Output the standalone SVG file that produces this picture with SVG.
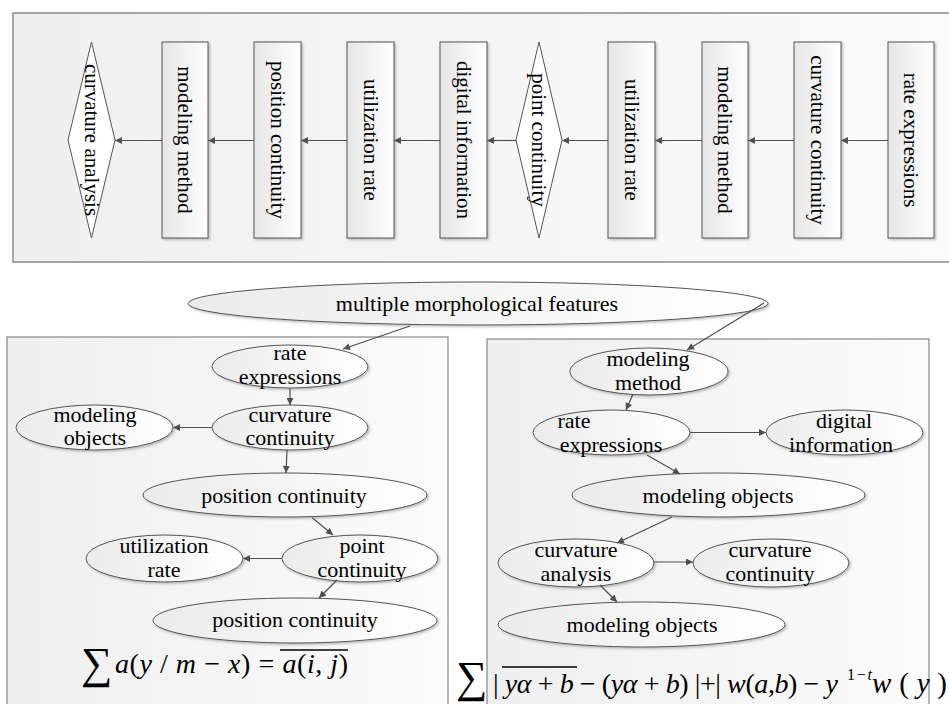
<svg xmlns="http://www.w3.org/2000/svg" width="949" height="704" viewBox="0 0 949 704">
<defs>
<linearGradient id="gPanel" x1="0" y1="0" x2="1" y2="0">
<stop offset="0" stop-color="#efefef"/>
<stop offset="1" stop-color="#fbfbfb"/>
</linearGradient>
<linearGradient id="gBox" x1="0" y1="0" x2="1" y2="0">
<stop offset="0" stop-color="#e6e6e6"/>
<stop offset="1" stop-color="#ffffff"/>
</linearGradient>
<linearGradient id="gEll" x1="0" y1="0" x2="1" y2="0">
<stop offset="0" stop-color="#ebebeb"/>
<stop offset="1" stop-color="#ffffff"/>
</linearGradient>
<filter id="sh" x="-10%" y="-10%" width="130%" height="130%">
<feDropShadow dx="1.5" dy="1.5" stdDeviation="1" flood-color="#000" flood-opacity="0.25"/>
</filter>
<marker id="ah" viewBox="0 0 10 10" refX="10" refY="5" markerWidth="8" markerHeight="7" markerUnits="userSpaceOnUse" orient="auto">
<path d="M0,0 L10,5 L0,10 z" fill="#505050"/>
</marker>
<style>
.panel{fill:url(#gPanel);stroke:#8a8a8a;stroke-width:1.5}
.panel2{fill:url(#gPanel);stroke:#707070;stroke-width:1}
.box{fill:url(#gBox);stroke:#555;stroke-width:1;filter:url(#sh)}
.dia{fill:#ffffff;stroke:#555;stroke-width:1}
.ell{fill:url(#gEll);stroke:#555;stroke-width:1;filter:url(#sh)}
.t21{font-family:"Liberation Serif","Times New Roman",serif;font-size:21px;fill:#000;text-anchor:middle;dominant-baseline:central}
.t22{font-family:"Liberation Serif","Times New Roman",serif;font-size:22px;fill:#000;text-anchor:middle}
.fm{font-family:"Liberation Serif","Times New Roman",serif;fill:#000}
.it{font-style:italic}
.cn{fill:none;stroke:#505050;stroke-width:1.2;marker-end:url(#ah)}
</style>
</defs>

<rect class="panel" x="13" y="13" width="960" height="249"/>
<rect class="panel2" x="7" y="337" width="441" height="400"/>
<rect class="panel2" x="487" y="339" width="442" height="400"/>

<g id="top-curvature-analysis">
<polygon class="dia" points="68,140 91.5,42 115,140 91.5,238"/>
<text class="t21" x="91.5" y="140" transform="rotate(90 91.5 140)">curvature analysis</text>
</g>
<g id="top-modeling-method-1">
<rect class="box" x="162" y="42" width="46" height="196"/>
<text class="t21" x="185" y="140" transform="rotate(90 185 140)">modeling method</text>
</g>
<g id="top-position-continuity">
<rect class="box" x="254" y="42" width="47" height="196"/>
<text class="t21" x="277.5" y="140" transform="rotate(90 277.5 140)">position continuity</text>
</g>
<g id="top-utilization-rate-1">
<rect class="box" x="347" y="42" width="47" height="196"/>
<text class="t21" x="370.5" y="140" transform="rotate(90 370.5 140)">utilization rate</text>
</g>
<g id="top-digital-information">
<rect class="box" x="440" y="42" width="47" height="196"/>
<text class="t21" x="463.5" y="140" transform="rotate(90 463.5 140)">digital information</text>
</g>
<g id="top-point-continuity">
<polygon class="dia" points="516,140 539,42 562,140 539,238"/>
<text class="t21" x="539" y="140" transform="rotate(90 539 140)">point continuity</text>
</g>
<g id="top-utilization-rate-2">
<rect class="box" x="608" y="42" width="47" height="196"/>
<text class="t21" x="631.5" y="140" transform="rotate(90 631.5 140)">utilization rate</text>
</g>
<g id="top-modeling-method-2">
<rect class="box" x="702" y="42" width="46" height="196"/>
<text class="t21" x="725" y="140" transform="rotate(90 725 140)">modeling method</text>
</g>
<g id="top-curvature-continuity">
<rect class="box" x="794" y="42" width="47" height="196"/>
<text class="t21" x="817.5" y="140" transform="rotate(90 817.5 140)">curvature continuity</text>
</g>
<g id="top-rate-expressions">
<rect class="box" x="888" y="42" width="46" height="196"/>
<text class="t21" x="911" y="140" transform="rotate(90 911 140)">rate expressions</text>
</g>

<g id="multiple-morphological-features">
<ellipse class="ell" cx="478" cy="303.5" rx="290" ry="21.5"/>
<text class="t22" x="477" y="311">multiple morphological features</text>
</g>

<g id="L-rate-expressions">
<ellipse class="ell" cx="290" cy="366.5" rx="78" ry="21.5"/>
<text class="t22" x="290" y="360">rate</text>
<text class="t22" x="290" y="384">expressions</text>
</g>
<g id="L-curvature-continuity">
<ellipse class="ell" cx="290" cy="427.5" rx="78" ry="22.5"/>
<text class="t22" x="290" y="421.5">curvature</text>
<text class="t22" x="290" y="445">continuity</text>
</g>
<g id="L-modeling-objects">
<ellipse class="ell" cx="94.5" cy="427.5" rx="78.5" ry="22.5"/>
<text class="t22" x="95" y="421.5">modeling</text>
<text class="t22" x="95" y="445">objects</text>
</g>
<g id="L-position-continuity-1">
<ellipse class="ell" cx="285" cy="495" rx="142" ry="22"/>
<text class="t22" x="284" y="503">position continuity</text>
</g>
<g id="L-point-continuity">
<ellipse class="ell" cx="360" cy="558.5" rx="78" ry="23.5"/>
<text class="t22" x="362" y="553">point</text>
<text class="t22" x="362" y="577">continuity</text>
</g>
<g id="L-utilization-rate">
<ellipse class="ell" cx="164.5" cy="558.5" rx="78.5" ry="23.5"/>
<text class="t22" x="164" y="553">utilization</text>
<text class="t22" x="164" y="577">rate</text>
</g>
<g id="L-position-continuity-2">
<ellipse class="ell" cx="295" cy="620.5" rx="142" ry="22.5"/>
<text class="t22" x="295" y="627">position continuity</text>
</g>

<g id="R-modeling-method">
<ellipse class="ell" cx="649" cy="371.5" rx="79" ry="23.5"/>
<text class="t22" x="648" y="365.5">modeling</text>
<text class="t22" x="648" y="390">method</text>
</g>
<g id="R-rate-expressions">
<ellipse class="ell" cx="611.5" cy="432.5" rx="78.5" ry="22.5"/>
<text class="t22" x="574" y="428">rate</text>
<text class="t22" x="611" y="452">expressions</text>
</g>
<g id="R-digital-information">
<ellipse class="ell" cx="844.5" cy="432.5" rx="78.5" ry="22.5"/>
<text class="t22" x="844" y="428">digital</text>
<text class="t22" x="841" y="452">information</text>
</g>
<g id="R-modeling-objects-1">
<ellipse class="ell" cx="718.5" cy="495" rx="146.5" ry="22"/>
<text class="t22" x="718" y="503">modeling objects</text>
</g>
<g id="R-curvature-analysis">
<ellipse class="ell" cx="576" cy="563" rx="78" ry="24"/>
<text class="t22" x="576" y="557">curvature</text>
<text class="t22" x="576" y="581">analysis</text>
</g>
<g id="R-curvature-continuity">
<ellipse class="ell" cx="771" cy="563" rx="78" ry="24"/>
<text class="t22" x="770" y="557">curvature</text>
<text class="t22" x="770" y="581">continuity</text>
</g>
<g id="R-modeling-objects-2">
<ellipse class="ell" cx="641.5" cy="624.5" rx="143.5" ry="22.5"/>
<text class="t22" x="642" y="632">modeling objects</text>
</g>

<g id="connectors">
<line class="cn" x1="888" y1="140.5" x2="841" y2="140.5"/>
<line class="cn" x1="794" y1="140.5" x2="748" y2="140.5"/>
<line class="cn" x1="702" y1="140.5" x2="655" y2="140.5"/>
<line class="cn" x1="608" y1="140.5" x2="562" y2="140.5"/>
<line class="cn" x1="516" y1="140.5" x2="487" y2="140.5"/>
<line class="cn" x1="440" y1="140.5" x2="394" y2="140.5"/>
<line class="cn" x1="347" y1="140.5" x2="301" y2="140.5"/>
<line class="cn" x1="254" y1="140.5" x2="208" y2="140.5"/>
<line class="cn" x1="162" y1="140.5" x2="115" y2="140.5"/>

<line class="cn" x1="410" y1="326" x2="343" y2="349"/>
<line class="cn" x1="290" y1="388" x2="290" y2="405"/>
<line class="cn" x1="212" y1="427.5" x2="173" y2="427.5"/>
<line class="cn" x1="287" y1="450" x2="286" y2="473"/>
<line class="cn" x1="312" y1="517.5" x2="333" y2="535"/>
<line class="cn" x1="282" y1="558.5" x2="243" y2="558.5"/>
<line class="cn" x1="337" y1="580" x2="319" y2="598"/>

<line class="cn" x1="764" y1="303" x2="687" y2="350"/>
<line class="cn" x1="633" y1="394" x2="626" y2="410"/>
<line class="cn" x1="690" y1="432.5" x2="766" y2="432.5"/>
<line class="cn" x1="647" y1="455" x2="680" y2="474"/>
<line class="cn" x1="672" y1="517" x2="617" y2="543"/>
<line class="cn" x1="654" y1="562" x2="693" y2="562"/>
<line class="cn" x1="600" y1="585" x2="617" y2="602"/>
</g>

<g id="formula-left">
<text class="fm" x="81" y="678" font-size="44">∑</text>
<text class="fm" x="115" y="673" font-size="28" textLength="233" lengthAdjust="spacing"><tspan class="it">a</tspan>(<tspan class="it">y</tspan> / <tspan class="it">m</tspan> − <tspan class="it">x</tspan>) = <tspan class="it">a</tspan>(<tspan class="it">i</tspan>, <tspan class="it">j</tspan>)</text>
<line x1="280" y1="650" x2="348" y2="650" stroke="#000" stroke-width="1.3"/>
</g>
<g id="formula-right">
<text class="fm" x="456" y="692" font-size="44">∑</text>
<text class="fm" x="493" y="693" font-size="28" textLength="345" lengthAdjust="spacing">| <tspan class="it">yα</tspan> + <tspan class="it">b</tspan> − (<tspan class="it">yα</tspan> + <tspan class="it">b</tspan>) |+| <tspan class="it">w</tspan>(<tspan class="it">a</tspan>,<tspan class="it">b</tspan>) − <tspan class="it">y</tspan></text>
<text class="fm" x="847" y="680" font-size="16" textLength="25" lengthAdjust="spacing">1−<tspan class="it">t</tspan></text>
<text class="fm" x="872" y="693" font-size="29" textLength="75" lengthAdjust="spacing"><tspan class="it">w</tspan>(<tspan class="it">y</tspan>)</text>
<line x1="502" y1="667" x2="577" y2="667" stroke="#000" stroke-width="1.3"/>
</g>
</svg>
